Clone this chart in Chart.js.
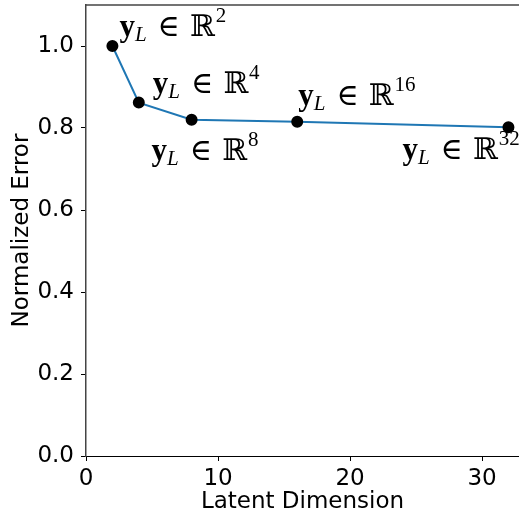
<!DOCTYPE html>
<html lang="en">
<head>
  <meta charset="UTF-8">
  <script src="https://cdn.jsdelivr.net/npm/chart.js"></script>
  <title>Normalized Error</title>
  <style>
    html, body { margin: 0; padding: 0; background: #fff; }
    #wrap { width: 519px; height: 520px; }
  </style>
</head>
<body>
  <div id="wrap"><canvas id="grafico"></canvas></div>
<script>
  // dimensões latentes e erro normalizado
  const dims = [2, 4, 8, 16, 32];
  const errors = [1.0, 0.862, 0.82, 0.815, 0.802];
  const xTicks = [0, 10, 20, 30];
  const yTicks = [0, 0.2, 0.4, 0.6, 0.8, 1.0];
  // deslocamento (px) do rótulo em relação ao ponto
  const labelOffsets = [[7, -10], [14, -10], [-40, 40], [1, -17], [-106, 32]];

  const fonteTexto = '"DejaVu Sans", sans-serif';
  const fonteMath = '"Liberation Serif", "DejaVu Serif", serif';

  // desenha y_L ∈ R^n em cada ponto
  const rotulosMath = {
    id: 'rotulosMath',
    afterDatasetsDraw(chart) {
      const ctx = chart.ctx;
      const meta = chart.getDatasetMeta(0);
      ctx.save();
      ctx.fillStyle = '#000';
      ctx.textBaseline = 'alphabetic';
      meta.data.forEach((pt, i) => {
        let x = pt.x + labelOffsets[i][0];
        const y = pt.y + labelOffsets[i][1];
        ctx.font = 'bold 31px ' + fonteMath;
        ctx.fillText('y', x, y);
        x += ctx.measureText('y').width;
        ctx.font = 'italic 21px ' + fonteMath;
        ctx.fillText('L', x, y + 5);
        x += ctx.measureText('L').width + 11;
        ctx.font = '30px ' + fonteMath;
        ctx.fillText('\u2208', x, y);
        x += ctx.measureText('\u2208').width + 10;
        ctx.fillText('\u211D', x, y);
        x += ctx.measureText('\u211D').width + 1;
        ctx.font = '21px ' + fonteMath;
        ctx.fillText(String(dims[i]), x, y - 14);
      });
      ctx.restore();
    }
  };

  // linha superior do quadro
  const bordaTopo = {
    id: 'bordaTopo',
    afterDraw(chart) {
      const a = chart.chartArea;
      const ctx = chart.ctx;
      ctx.save();
      ctx.strokeStyle = '#444';
      ctx.lineWidth = 1.5;
      ctx.beginPath();
      ctx.moveTo(a.left, a.top);
      ctx.lineTo(a.right, a.top);
      ctx.stroke();
      ctx.restore();
    }
  };

  new Chart(document.getElementById('grafico'), {
    type: 'line',
    data: {
      datasets: [{
        data: dims.map((d, i) => ({ x: d, y: errors[i] })),
        borderColor: '#1f77b4',
        borderWidth: 2,
        pointRadius: 5,
        pointBackgroundColor: '#000',
        pointBorderColor: '#000',
        tension: 0,
        clip: false
      }]
    },
    options: {
      responsive: true,
      maintainAspectRatio: false,
      animation: false,
      layout: { autoPadding: false, padding: { top: 5, right: 0, left: 0, bottom: 0 } },
      plugins: { legend: { display: false }, tooltip: { enabled: false } },
      scales: {
        x: {
          type: 'linear',
          min: 0,
          max: 32.8,
          afterBuildTicks: s => { s.ticks = xTicks.map(v => ({ value: v })); },
          afterFit: s => { s.height = 64; s.paddingLeft = 0; s.paddingRight = 0; },
          grid: { drawOnChartArea: false, drawTicks: true, tickLength: 5, color: '#000' },
          border: { color: '#000', width: 1 },
          ticks: { color: '#000', font: { family: fonteTexto, size: 23 }, padding: 4, maxRotation: 0 },
          title: { display: true, text: 'Latent Dimension', color: '#000', font: { family: fonteTexto, size: 23 }, padding: { top: 0, bottom: 4 } }
        },
        y: {
          min: 0,
          max: 1.1,
          afterBuildTicks: s => { s.ticks = yTicks.map(v => ({ value: v })); },
          afterFit: s => { s.width = 86; s.paddingTop = 0; s.paddingBottom = 0; },
          grid: { drawOnChartArea: false, drawTicks: true, tickLength: 5, color: '#000' },
          border: { color: '#444', width: 1.5 },
          ticks: { color: '#000', font: { family: fonteTexto, size: 23 }, padding: 7, callback: v => v.toFixed(1) },
          title: { display: true, text: 'Normalized Error', color: '#000', font: { family: fonteTexto, size: 23 }, padding: { top: 8, bottom: 0 } }
        }
      }
    },
    plugins: [rotulosMath, bordaTopo]
  });
</script>
</body>
</html>
